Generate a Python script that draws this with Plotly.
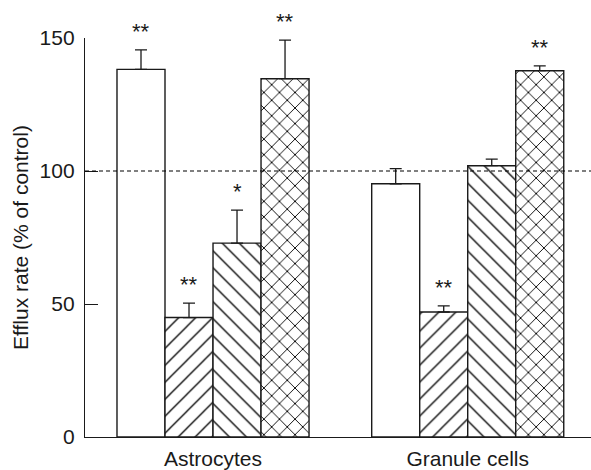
import plotly.graph_objects as go

# Efflux rate per cell type, four conditions each (mean and upper SEM)
groups = ["Astrocytes", "Granule cells"]
condition_names = ["Condition 1", "Condition 2", "Condition 3", "Condition 4"]
astro_means = [138.2, 44.9, 72.9, 134.7]
astro_err = [7.3, 5.4, 12.4, 14.5]
granule_means = [95.2, 47.0, 102.0, 137.7]
granule_err = [5.7, 2.3, 2.5, 1.8]
astro_sig = ["**", "**", "*", "**"]
granule_sig = ["", "**", "", "**"]
y_ticks = [0, 50, 100, 150]

patterns = ["", "/", "\\", "x"]
pattern_sizes = [8, 12, 12, 11]
pattern_solidity = [0.1, 0.11, 0.11, 0.16]

BARGAP = 0.246
FONT = "Liberation Sans, Arial, sans-serif"
INK = "#1a1a1a"

fig = go.Figure()
for k in range(4):
    fig.add_trace(go.Bar(
        x=groups,
        y=[astro_means[k], granule_means[k]],
        name=condition_names[k],
        marker=dict(
            color="white",
            line=dict(color=INK, width=1.4),
            pattern=dict(shape=patterns[k], fgcolor="black", bgcolor="white",
                         fgopacity=1, size=pattern_sizes[k],
                         solidity=pattern_solidity[k]),
        ),
        error_y=dict(type="data", symmetric=False,
                     array=[astro_err[k], granule_err[k]],
                     arrayminus=[0, 0],
                     color=INK, thickness=1.3, width=6),
        showlegend=False,
    ))

# significance markers above each error bar
bar_w = (1 - BARGAP) / 4
for gi, (means, errs, sigs) in enumerate([(astro_means, astro_err, astro_sig),
                                          (granule_means, granule_err, granule_sig)]):
    for k in range(4):
        if not sigs[k]:
            continue
        fig.add_annotation(
            x=gi + (k - 1.5) * bar_w, y=means[k] + errs[k],
            xref="x", yref="y", text=sigs[k], showarrow=False,
            yanchor="bottom", yshift=4,
            font=dict(family=FONT, size=22, color=INK),
        )

# control level
fig.add_shape(type="line", xref="paper", yref="y", x0=0, x1=1, y0=100, y1=100,
              line=dict(color="black", width=1.2, dash="4px,3px"), layer="above")

fig.update_layout(
    width=591, height=470,
    margin=dict(l=85, r=0, t=38, b=33),
    paper_bgcolor="white", plot_bgcolor="white",
    barmode="group", bargap=BARGAP, bargroupgap=0,
    font=dict(family=FONT, size=21, color=INK),
    xaxis=dict(
        range=[-0.5026, 1.484], showline=True, linecolor=INK, linewidth=1.3,
        ticks="", showgrid=False, zeroline=False, ticklabelstandoff=3,
        tickfont=dict(family=FONT, size=21, color=INK),
    ),
    yaxis=dict(
        range=[0, 150], tickvals=y_ticks, showline=True, linecolor=INK,
        linewidth=1.3, ticks="inside", ticklen=13, tickwidth=1.3, tickcolor=INK,
        showgrid=False, zeroline=False, ticklabelstandoff=5,
        tickfont=dict(family=FONT, size=21, color=INK),
        title=dict(text="Efflux rate (% of control)",
                   font=dict(family=FONT, size=21, color=INK), standoff=5),
    ),
)

fig.write_html("out.html")
